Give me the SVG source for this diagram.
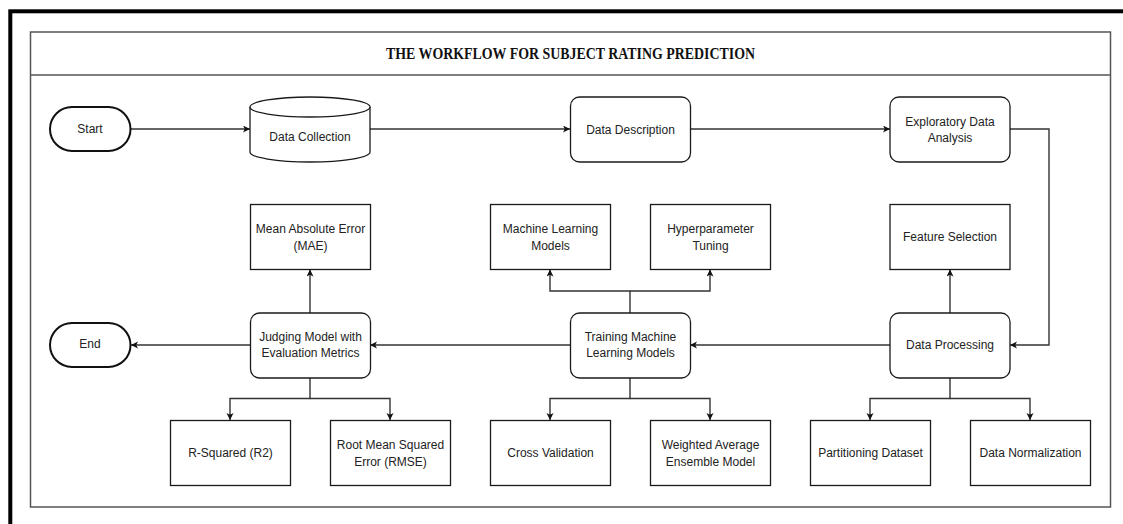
<svg xmlns="http://www.w3.org/2000/svg" width="1123" height="524" viewBox="0 0 1123 524">
<defs>
<style>
.box{fill:#fff;stroke:#1a1a1a;stroke-width:1.3}
.term{fill:#fff;stroke:#111;stroke-width:2}
.lbl{font-family:"Liberation Sans",Arial,sans-serif;font-size:12px;fill:#222;text-anchor:middle;dominant-baseline:central}
.con{fill:none;stroke:#333;stroke-width:1.4}
.con path{marker-end:url(#arr)}
</style>
<marker id="arr" markerUnits="userSpaceOnUse" markerWidth="8" markerHeight="8" refX="7" refY="3.5" orient="auto">
<path d="M0,0 L7,3.5 L0,7 L1.8,3.5 Z" fill="#111" stroke="none"/>
</marker>
</defs>
<rect x="0" y="0" width="1123" height="524" fill="#fff"/>
<rect x="10.3" y="11.3" width="1200" height="600" fill="none" stroke="#000" stroke-width="4"/>
<g id="frame">
<rect x="30.5" y="32" width="1080" height="475" fill="none" stroke="#555" stroke-width="1.5"/>
<line x1="30.5" y1="75" x2="1110.5" y2="75" stroke="#555" stroke-width="1.5"/>
<text x="570.5" y="58.5" font-family="Liberation Serif,'Times New Roman',serif" font-weight="bold" font-size="16" fill="#111" text-anchor="middle" textLength="369" lengthAdjust="spacingAndGlyphs">THE WORKFLOW FOR SUBJECT RATING PREDICTION</text>
</g>
<g id="connectors" class="con">
<path d="M131,129 H250"/>
<path d="M370,129 H570"/>
<path d="M690,129 H890"/>
<path d="M1010,129 H1049 V345 H1010"/>
<path d="M890,345 H690"/>
<path d="M570,345 H370"/>
<path d="M250,345 H131"/>
<path d="M310,313 V269.5"/>
<path d="M310,378 V398.5 H230 V420"/>
<path d="M310,398.5 H390 V420"/>
<path d="M630,313 V291 H550 V269.5"/>
<path d="M630,291 H710 V269.5"/>
<path d="M630,378 V398.5 H550 V420"/>
<path d="M630,398.5 H710 V420"/>
<path d="M950,313 V269.5"/>
<path d="M950,378 V398.5 H870 V420"/>
<path d="M950,398.5 H1030 V420"/>
</g>
<g id="start"><rect class="term" x="50" y="107" width="80.5" height="44" rx="22"/><text class="lbl" x="90" y="128.5">Start</text></g>
<g id="data-collection">
<path class="box" d="M250,107 A60,10 0 0 1 370,107 L370,152 A60,10 0 0 1 250,152 Z"/>
<path class="box" fill="none" d="M250,107 A60,10 0 0 0 370,107"/>
<text class="lbl" x="310" y="137">Data Collection</text>
</g>
<g id="data-description"><rect class="box" x="570.5" y="97" width="120" height="65" rx="9"/><text class="lbl" x="630.5" y="129.5">Data Description</text></g>
<g id="eda"><rect class="box" x="890" y="97" width="120" height="65" rx="9"/><text class="lbl" x="950" y="121.5">Exploratory Data</text><text class="lbl" x="950" y="137.5">Analysis</text></g>
<g id="mae"><rect class="box" x="250.5" y="204.5" width="120" height="65"/><text class="lbl" x="310.5" y="229">Mean Absolute Error</text><text class="lbl" x="310.5" y="245.5">(MAE)</text></g>
<g id="ml-models"><rect class="box" x="490.5" y="204.5" width="120" height="65"/><text class="lbl" x="550.5" y="229">Machine Learning</text><text class="lbl" x="550.5" y="245.5">Models</text></g>
<g id="hyperparameter"><rect class="box" x="650.5" y="204.5" width="120" height="65"/><text class="lbl" x="710.5" y="229">Hyperparameter</text><text class="lbl" x="710.5" y="245.5">Tuning</text></g>
<g id="feature-selection"><rect class="box" x="890" y="204.5" width="120" height="65"/><text class="lbl" x="950" y="236.5">Feature Selection</text></g>
<g id="end"><rect class="term" x="50" y="323" width="80.5" height="44" rx="22"/><text class="lbl" x="90" y="344">End</text></g>
<g id="judging"><rect class="box" x="250.5" y="313" width="120" height="65" rx="9"/><text class="lbl" x="310.5" y="337">Judging Model with</text><text class="lbl" x="310.5" y="353">Evaluation Metrics</text></g>
<g id="training"><rect class="box" x="570.5" y="313" width="120" height="65" rx="9"/><text class="lbl" x="630.5" y="337">Training Machine</text><text class="lbl" x="630.5" y="353">Learning Models</text></g>
<g id="data-processing"><rect class="box" x="890" y="313" width="120" height="65" rx="9"/><text class="lbl" x="950" y="344.5">Data Processing</text></g>
<g id="r-squared"><rect class="box" x="170.5" y="420.5" width="120" height="65"/><text class="lbl" x="230.5" y="452.5">R-Squared (R2)</text></g>
<g id="rmse"><rect class="box" x="330.5" y="420.5" width="120" height="65"/><text class="lbl" x="390.5" y="445">Root Mean Squared</text><text class="lbl" x="390.5" y="461.5">Error (RMSE)</text></g>
<g id="cross-validation"><rect class="box" x="490.5" y="420.5" width="120" height="65"/><text class="lbl" x="550.5" y="452.5">Cross Validation</text></g>
<g id="weighted-average"><rect class="box" x="650.5" y="420.5" width="120" height="65"/><text class="lbl" x="710.5" y="445">Weighted Average</text><text class="lbl" x="710.5" y="461.5">Ensemble Model</text></g>
<g id="partitioning"><rect class="box" x="810.5" y="420.5" width="120" height="65"/><text class="lbl" x="870.5" y="452.5">Partitioning Dataset</text></g>
<g id="normalization"><rect class="box" x="970.5" y="420.5" width="120" height="65"/><text class="lbl" x="1030.5" y="452.5">Data Normalization</text></g>
</svg>
